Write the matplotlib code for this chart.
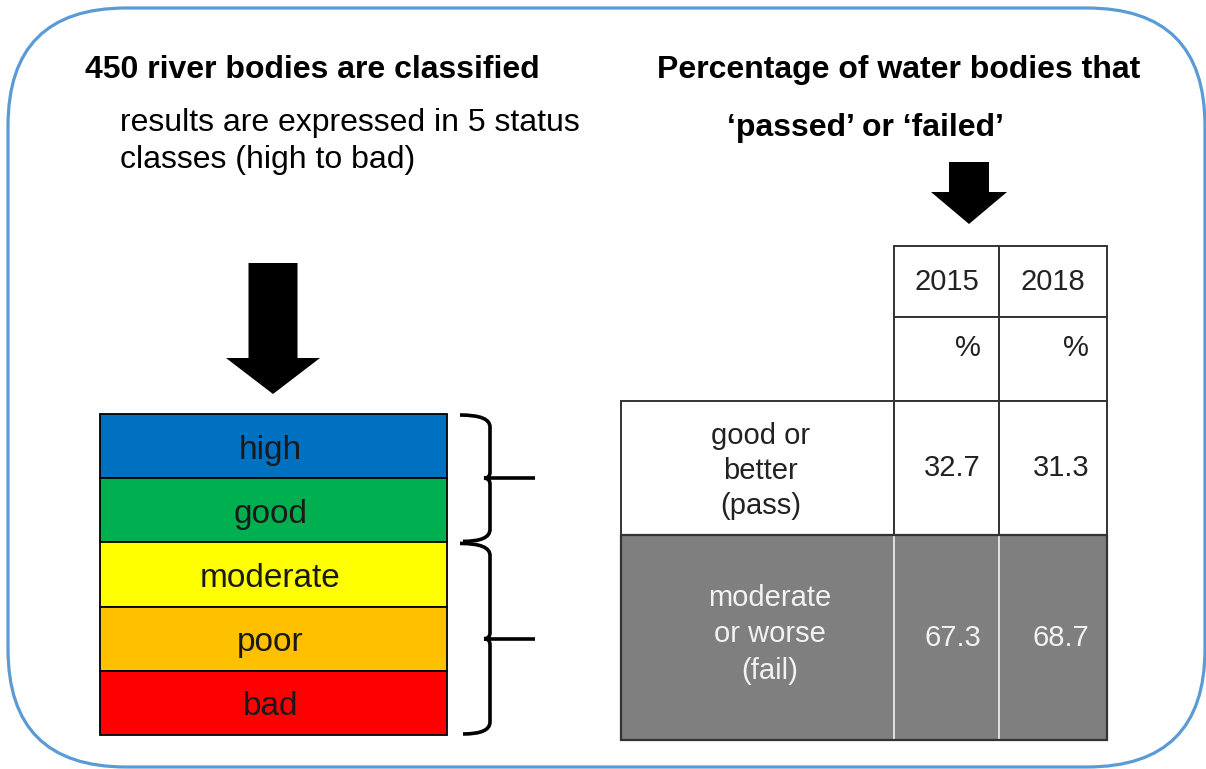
import matplotlib.pyplot as plt
from matplotlib.patches import Rectangle, FancyBboxPatch, Polygon, PathPatch
from matplotlib.path import Path

plt.rcParams['font.family'] = ['Liberation Sans', 'DejaVu Sans']

# data
classes = ['high', 'good', 'moderate', 'poor', 'bad']
class_colors = ['#0070C0', '#00B050', '#FFFF00', '#FFC000', '#FF0000']
group_labels = ['good or\nbetter\n(pass)', 'moderate\nor worse\n(fail)']
group_sizes = [2, 3]          # classes in pass / fail
years = ['2015', '2018']
pct_2015 = [32.7, 67.3]
pct_2018 = [31.3, 68.7]

fig = plt.figure(figsize=(12.06, 7.69), dpi=100)
ax = fig.add_axes([0, 0, 1, 1])
ax.set_xlim(0, 1206)
ax.set_ylim(769, 0)
ax.axis('off')

# rounded frame
ax.add_patch(FancyBboxPatch((8, 8), 1197, 759, boxstyle='round,pad=0,rounding_size=118',
                            fc='none', ec='#5b9bd5', lw=2.3, clip_on=False))

# titles
ax.text(85, 70, '450 river bodies are classified', fontsize=23, fontweight='bold', va='center')
ax.text(120, 123, 'results are expressed in 5 status', fontsize=23, va='center')
ax.text(120, 160, 'classes (high to bad)', fontsize=23, va='center')
ax.text(657, 70, 'Percentage of water bodies that', fontsize=23, fontweight='bold', va='center')
ax.text(727, 128, '\u2018passed\u2019 or \u2018failed\u2019', fontsize=23, fontweight='bold', va='center')


def down_arrow(xc, y_top, shaft_w, head_w, head_top, tip):
    pts = [(xc - shaft_w / 2, y_top), (xc + shaft_w / 2, y_top), (xc + shaft_w / 2, head_top),
           (xc + head_w / 2, head_top), (xc, tip), (xc - head_w / 2, head_top),
           (xc - shaft_w / 2, head_top)]
    ax.add_patch(Polygon(pts, closed=True, fc='black', ec='none'))


down_arrow(273, 263, 49, 94, 358, 394)
down_arrow(969, 162, 40, 76, 192, 224)

# status class bar
bar_x0, bar_x1 = 100, 447
bar_top, row_h = 414, 64.2
ys = [bar_top + row_h * (i + 0.5) for i in range(len(classes))]
ax.barh(ys, bar_x1 - bar_x0, height=row_h, left=bar_x0, color=class_colors,
        edgecolor='black', linewidth=1.3)
for y, lab in zip(ys, classes):
    ax.text((bar_x0 + bar_x1) / 2 - 3, y + 4, lab, fontsize=24, ha='center', va='center', color='#1a1a1a')


# braces
def brace(y0, y1, x_tip=460, x_sp=490, x_out=535):
    ym = (y0 + y1) / 2
    verts = [(x_tip, y0), (x_sp, y0), (x_sp, y0 + 12), (x_sp, ym - 6), (x_sp, ym), (x_sp - 6, ym),
             (x_sp - 6, ym), (x_sp, ym), (x_sp, ym + 6), (x_sp, y1 - 12), (x_sp, y1), (x_tip + 3, y1)]
    codes = [Path.MOVETO, Path.CURVE3, Path.CURVE3, Path.LINETO, Path.CURVE3, Path.CURVE3,
             Path.MOVETO, Path.CURVE3, Path.CURVE3, Path.LINETO, Path.CURVE3, Path.CURVE3]
    ax.add_patch(PathPatch(Path(verts, codes), fc='none', ec='black', lw=2.6))
    ax.plot([x_sp - 6, x_out], [ym, ym], color='black', lw=2.6, solid_capstyle='butt')


start = 0
for n in group_sizes:
    brace(bar_top + row_h * start + 1, bar_top + row_h * (start + n) - 1)
    start += n

# table
col_x = [621, 894, 999, 1107]
row_y = [246, 317, 401, 535, 740]
edge = '#333333'
tcol = '#222222'
fail_fc = '#7f7f7f'

for j, yr in enumerate(years):
    x0, x1 = col_x[j + 1], col_x[j + 2]
    ax.add_patch(Rectangle((x0, row_y[0]), x1 - x0, row_y[1] - row_y[0], fc='white', ec=edge, lw=1.4))
    ax.add_patch(Rectangle((x0, row_y[1]), x1 - x0, row_y[2] - row_y[1], fc='white', ec=edge, lw=1.4))
    ax.text((x0 + x1) / 2, (row_y[0] + row_y[1]) / 2, yr, fontsize=21, ha='center', va='center', color=tcol)
    ax.text(x1 - 18, 348, '%', fontsize=21, ha='right', va='center', color=tcol)

values = [pct_2015, pct_2018]
for i, lab in enumerate(group_labels):
    y0, y1 = row_y[i + 2], row_y[i + 3]
    fail = i == 1
    fc = fail_fc if fail else 'white'
    inner = '#e0e0e0' if fail else edge
    tc = '#f2f2f2' if fail else tcol
    for j in range(3):
        x0, x1 = col_x[j], col_x[j + 1]
        ax.add_patch(Rectangle((x0, y0), x1 - x0, y1 - y0, fc=fc, ec=inner, lw=1.4))
    if fail:
        ax.add_patch(Rectangle((col_x[0], y0), col_x[3] - col_x[0], y1 - y0, fc='none', ec=edge, lw=1.6))
    ax.text((col_x[0] + col_x[1]) / 2 + (12 if fail else 3), (y0 + y1) / 2 + (-3 if fail else 3), lab,
            fontsize=21, ha='center', va='center', color=tc, linespacing=(1.4 if fail else 1.3))
    for j in range(2):
        ax.text(col_x[j + 2] - 18, (y0 + y1) / 2, f'{values[j][i]:.1f}', fontsize=21,
                ha='right', va='center', color=tc)

fig.savefig('out.png', dpi=100)
